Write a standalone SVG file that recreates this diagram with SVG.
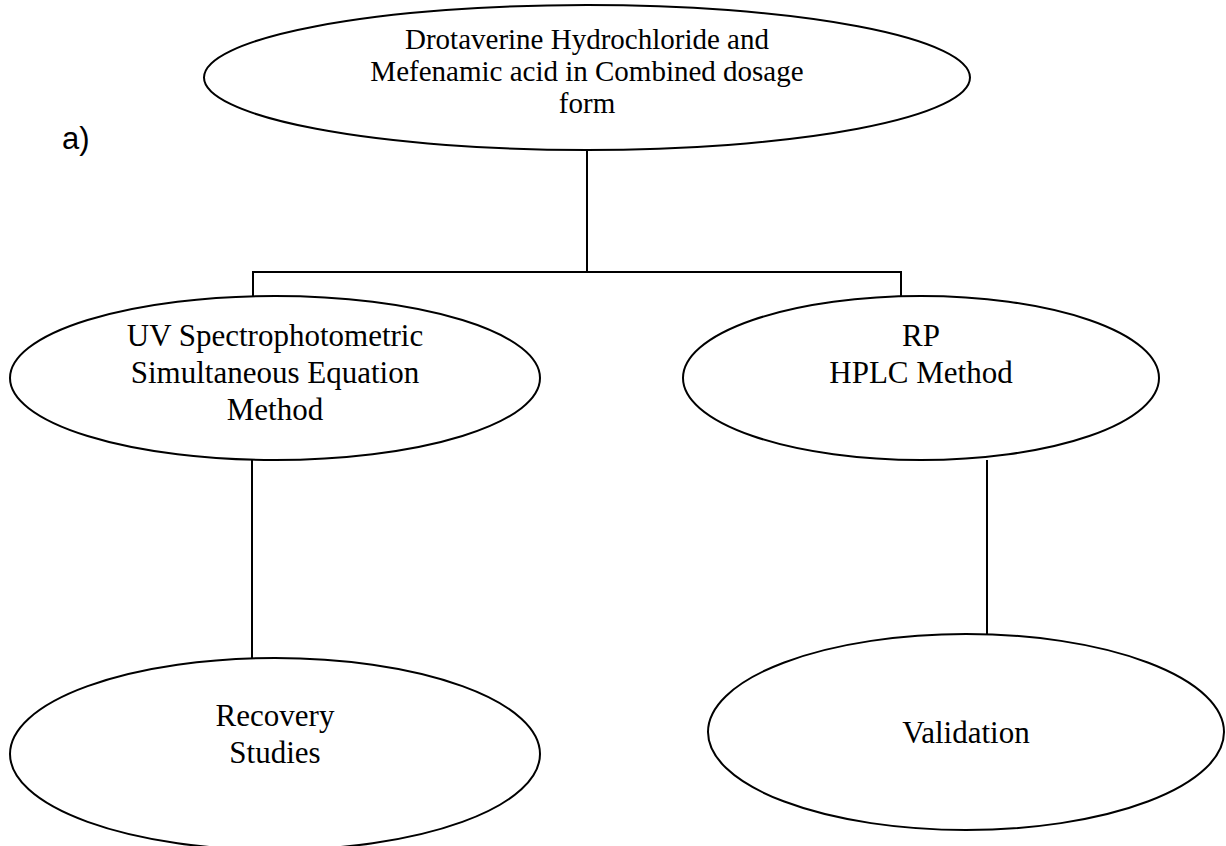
<svg xmlns="http://www.w3.org/2000/svg" width="1226" height="846" viewBox="0 0 1226 846">
<style>
.node ellipse{fill:#fff;stroke:#000;stroke-width:2}
.t{font-family:"Liberation Serif","Times New Roman",serif;fill:#000;text-anchor:middle}
.t1{font-size:29px}
.t2{font-size:31px}
.lbl{font-family:"Liberation Sans",Arial,sans-serif;font-size:31px;fill:#000}
.conn line{stroke:#000;stroke-width:2}
</style>
<rect width="1226" height="846" fill="#fff"/>
<text class="lbl" x="62" y="149">a)</text>
<g class="conn" id="connectors">
<line x1="587" y1="150" x2="587" y2="272"/>
<line x1="253" y1="272" x2="901" y2="272"/>
<line x1="253" y1="271" x2="253" y2="298"/>
<line x1="901" y1="271" x2="901" y2="298"/>
<line x1="252" y1="460" x2="252" y2="658"/>
<line x1="987" y1="460" x2="987" y2="634"/>
</g>
<g class="node" id="n-top">
<ellipse cx="587" cy="77.5" rx="383" ry="72.5"/>
<text class="t t1" x="587" y="49">Drotaverine Hydrochloride and</text>
<text class="t t1" x="587" y="81">Mefenamic acid in Combined dosage</text>
<text class="t t1" x="587" y="113">form</text>
</g>
<g class="node" id="n-uv">
<ellipse cx="275" cy="378" rx="265" ry="82"/>
<text class="t t2" x="275" y="346">UV Spectrophotometric</text>
<text class="t t2" x="275" y="383">Simultaneous Equation</text>
<text class="t t2" x="275" y="420">Method</text>
</g>
<g class="node" id="n-hplc">
<ellipse cx="921" cy="378" rx="238" ry="82"/>
<text class="t t2" x="921" y="346">RP</text>
<text class="t t2" x="921" y="383">HPLC Method</text>
</g>
<g class="node" id="n-rec">
<ellipse cx="275" cy="754" rx="265" ry="96"/>
<text class="t t2" x="275" y="726">Recovery</text>
<text class="t t2" x="275" y="763">Studies</text>
</g>
<g class="node" id="n-val">
<ellipse cx="966" cy="732" rx="258" ry="98"/>
<text class="t t2" x="966" y="743">Validation</text>
</g>
</svg>
